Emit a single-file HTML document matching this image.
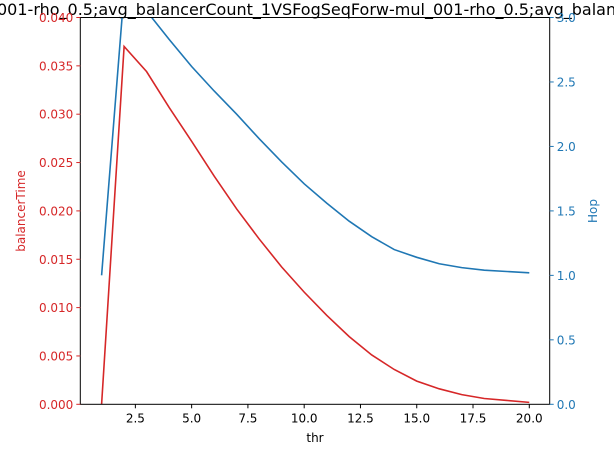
<!DOCTYPE html>
<html><head><meta charset="utf-8"><style>body{margin:0;background:#fff}svg{display:block;font-family:"DejaVu Sans","Liberation Sans",sans-serif}</style></head>
<body>
<svg id="c" width="614" height="461">
<text x="-3" y="15" font-size="16">001-rho_0.5;avg_balancerCount_1VSFogSeqForw-mul_001-rho_0.5;avg_balancerTime</text>
</svg>
<script>
const thr=[1,2,3,4,5,6,7,8,9,10,11,12,13,14,15,16,17,18,19,20];
const balancerTime=[0,0.037,0.0344,0.0307,0.0272,0.0236,0.0202,0.0171,0.0142,0.0116,0.0092,0.0070,0.0051,0.0036,0.0024,0.0016,0.0010,0.0006,0.0004,0.0002];
const hop=[1.0,3.2,3.05,2.83,2.62,2.43,2.25,2.06,1.88,1.71,1.56,1.42,1.30,1.20,1.14,1.09,1.06,1.04,1.03,1.02];
const xTicks=[2.5,5.0,7.5,10.0,12.5,15.0,17.5,20.0];
const yLTicks=[0,0.005,0.01,0.015,0.02,0.025,0.03,0.035,0.04];
const yRTicks=[0,0.5,1.0,1.5,2.0,2.5,3.0];
const L=80.3,R=549.7,T=17.5,B=404.3;
const sx=v=>101.6+(v-1)*22.51;
const syL=v=>B-v/0.04*(B-T);
const syR=v=>B-v/3*(B-T);
const svg=document.getElementById('c');const NS='http://www.w3.org/2000/svg';
function mk(t,a,p){const e=document.createElementNS(NS,t);for(const k in a)e.setAttribute(k,a[k]);(p||svg).appendChild(e);return e;}
const defs=mk('defs',{});const cp=mk('clipPath',{id:'cp'},defs);mk('rect',{x:L,y:T,width:R-L,height:B-T},cp);
function line(data,sy,col,name){const g=mk('polyline',{points:data.map((v,i)=>sx(thr[i])+','+sy(v)).join(' '),fill:'none',stroke:col,'stroke-width':1.6,'clip-path':'url(#cp)'});

}
line(balancerTime,syL,'#d62728','balancer-time-line');
line(hop,syR,'#1f77b4','hop-line');
const fr=mk('rect',{x:L,y:T,width:R-L,height:B-T,fill:'none',stroke:'#000','stroke-width':1});


xTicks.forEach(v=>{const x=sx(v);mk('line',{x1:x,x2:x,y1:B,y2:B+4,stroke:'#000'});const t=mk('text',{x:x,y:B+18,'font-size':12,'text-anchor':'middle'});t.textContent=v.toFixed(1);

});
yLTicks.forEach(v=>{const y=syL(v);mk('line',{x1:L-4,x2:L,y1:y,y2:y,stroke:'#d62728'});const t=mk('text',{x:L-7,y:y+4.5,'font-size':12,'text-anchor':'end',fill:'#d62728'});t.textContent=v.toFixed(3);

});
yRTicks.forEach(v=>{const y=syR(v);mk('line',{x1:R,x2:R+4,y1:y,y2:y,stroke:'#1f77b4'});const t=mk('text',{x:R+7,y:y+4.5,'font-size':12,fill:'#1f77b4'});t.textContent=v.toFixed(1);

});
let t=mk('text',{x:315,y:442,'font-size':12,'text-anchor':'middle'});t.textContent='thr';


t=mk('text',{x:0,y:0,'font-size':12,'text-anchor':'middle',fill:'#d62728',transform:'translate(25,211) rotate(-90)'});t.textContent='balancerTime';


t=mk('text',{x:0,y:0,'font-size':12,'text-anchor':'middle',fill:'#1f77b4',transform:'translate(597,211) rotate(-90)'});t.textContent='Hop';


</script>
</body></html>
